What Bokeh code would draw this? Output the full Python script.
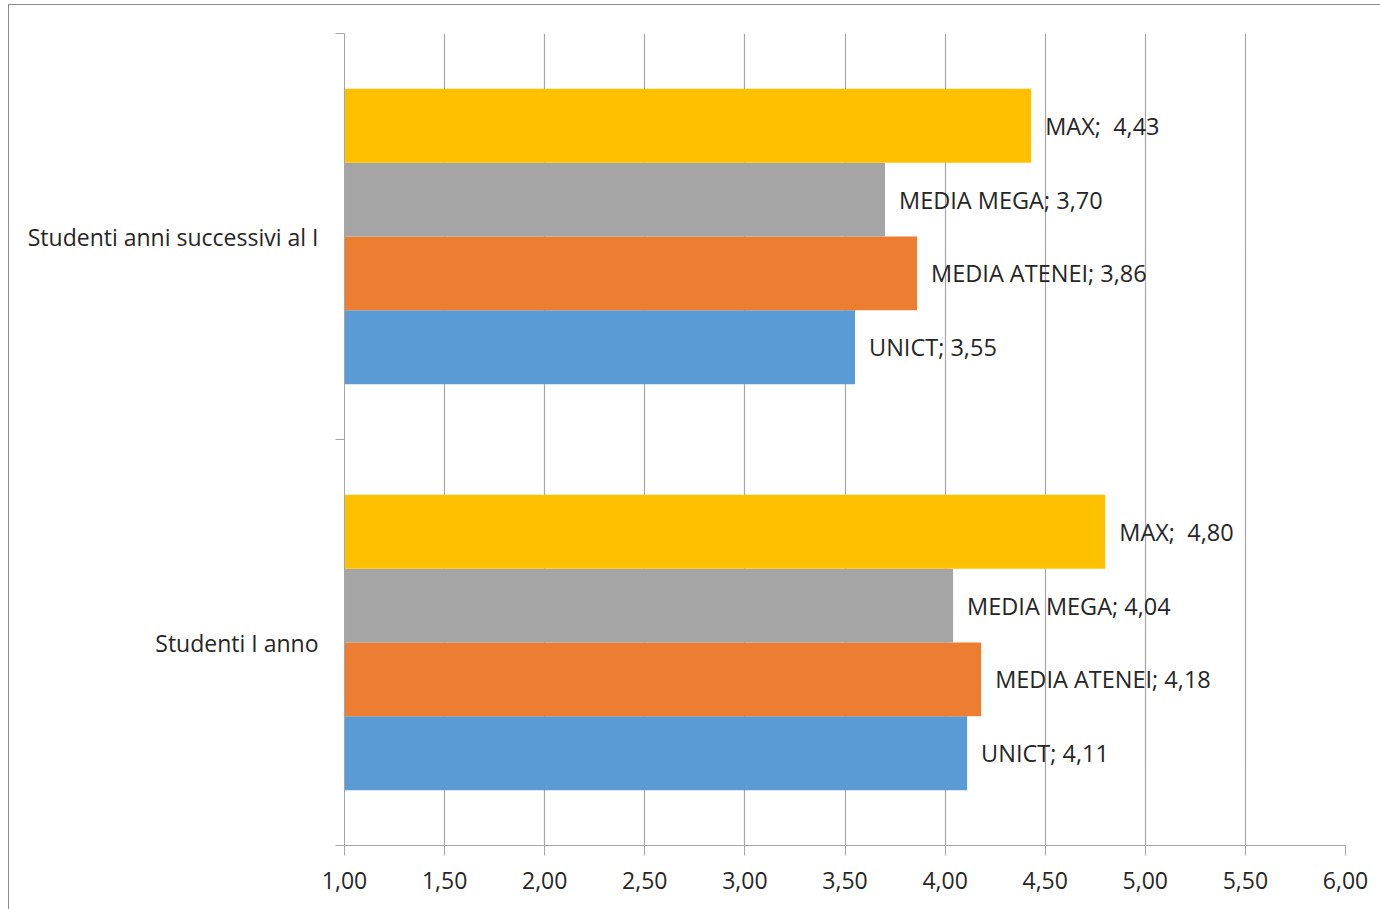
from bokeh.plotting import figure
from bokeh.models import Range1d, FixedTicker, ColumnDataSource, CustomJSTickFormatter
from bokeh.transform import dodge
from bokeh.core.properties import value
from bokeh.embed import file_html
from bokeh.resources import INLINE

# Groups (bottom to top) and their centres on the numeric y scale
groups = ["Studenti I anno", "Studenti anni successivi al I"]
group_pos = [0.5, 1.5]
group_edges = [0.0, 1.0, 2.0]

# Series, drawn bottom to top inside each group
series = ["UNICT", "MEDIA ATENEI", "MEDIA MEGA", "MAX"]
# non-breaking space keeps the wider gap after "MAX;" in SVG text
series_labels = ["UNICT; ", "MEDIA ATENEI; ", "MEDIA MEGA; ", "MAX;\u00a0 "]
colors = ["#5B9BD5", "#ED7D31", "#A5A5A5", "#FFC000"]

unict = [4.11, 3.55]
media_atenei = [4.18, 3.86]
media_mega = [4.04, 3.70]
max_vals = [4.80, 4.43]
values = [unict, media_atenei, media_mega, max_vals]

x_ticks = [1.0, 1.5, 2.0, 2.5, 3.0, 3.5, 4.0, 4.5, 5.0, 5.5, 6.0]

FONT = "Open Sans"
GRID = "#a6a6a6"
TEXT = "#262626"

p = figure(
    width=1372, height=905,
    x_range=Range1d(1, 6), y_range=Range1d(0, 2),
    output_backend="svg", toolbar_location=None,
    min_border_left=335, min_border_right=36,
    min_border_top=28, min_border_bottom=65,
)
p.margin = (4, 0, 0, 8)
p.styles = {"border-left": "1.5px solid #8c8c8c", "border-top": "1.5px solid #8c8c8c"}
p.outline_line_color = None
p.background_fill_color = "white"
p.border_fill_color = "white"

bar_h = 1.0 / 5.5  # four bars plus a 150% gap per group

for i, (name, lab, col, vals) in enumerate(zip(series, series_labels, colors, values)):
    src = ColumnDataSource(dict(
        y=group_pos,
        v=vals,
        label=[lab + f"{v:.2f}".replace(".", ",") for v in vals],
    ))
    off = (i - 1.5) * bar_h
    p.hbar(y=dodge("y", off, range=p.y_range), left=1, right="v", height=bar_h,
           source=src, fill_color=col, line_color=None)
    p.text(x="v", y=dodge("y", off, range=p.y_range), text="label", source=src,
           x_offset=14, text_baseline="middle", text_align="left",
           text_font=value(FONT), text_font_size="23.5px", text_color=TEXT)

# x axis: value scale with comma decimals
p.xaxis.ticker = FixedTicker(ticks=x_ticks)
p.xaxis.formatter = CustomJSTickFormatter(code="return tick.toFixed(2).replace('.', ',');")
p.xaxis.axis_line_color = GRID
p.xaxis.major_tick_line_color = GRID
p.xaxis.major_tick_out = 10
p.xaxis.major_tick_in = 0
p.xaxis.minor_tick_line_color = None
p.xaxis.major_label_standoff = 16
p.xaxis.major_label_text_font = FONT
p.xaxis.major_label_text_font_size = "23px"
p.xaxis.major_label_text_color = TEXT

# y axis: group names at centres, tick marks at group boundaries
p.yaxis.ticker = FixedTicker(ticks=group_pos, minor_ticks=group_edges)
p.yaxis.major_label_overrides = {pos: g for pos, g in zip(group_pos, groups)}
p.yaxis.axis_line_color = GRID
p.yaxis.major_tick_line_color = None
p.yaxis.major_tick_out = 0
p.yaxis.major_tick_in = 0
p.yaxis.minor_tick_line_color = GRID
p.yaxis.minor_tick_out = 9
p.yaxis.minor_tick_in = 0
p.yaxis.major_label_standoff = 17
p.yaxis.major_label_text_font = FONT
p.yaxis.major_label_text_font_size = "23px"
p.yaxis.major_label_text_color = TEXT

p.xgrid.ticker = FixedTicker(ticks=x_ticks)
p.xgrid.grid_line_color = GRID
p.xgrid.grid_line_width = 1.2
p.ygrid.visible = False

open("out.html", "w").write(file_html(p, INLINE))
